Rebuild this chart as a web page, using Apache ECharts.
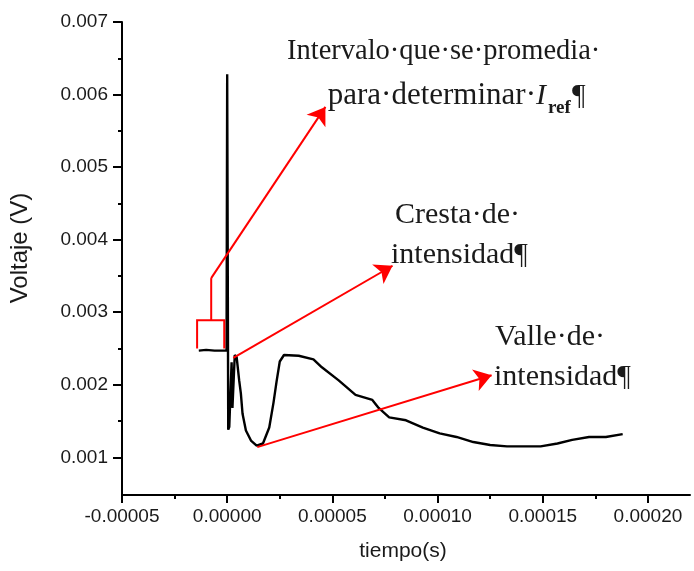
<!DOCTYPE html>
<html><head><meta charset="utf-8">
<script src="https://cdn.jsdelivr.net/npm/echarts@6/dist/echarts.min.js"></script>
<style>html,body{margin:0;padding:0;background:#fff}#c{width:694px;height:571px}</style>
</head><body><div id="c"></div>
<script>
// ---- data ----
const timeS = [-1.35e-5, -1.0e-5, -6e-6, -2e-6, -3e-7, 0, 5e-7, 1.0e-6, 2.1e-6, 2.5e-6, 3.6e-6, 4.5e-6,
  5.7e-6, 6.5e-6, 7.3e-6, 8.9e-6, 1.13e-5, 1.4e-5, 1.7e-5, 2.0e-5, 2.2e-5, 2.35e-5, 2.5e-5, 2.7e-5,
  3.4e-5, 4.1e-5, 4.5e-5, 5.3e-5, 6.1e-5, 6.9e-5, 7.2e-5, 7.7e-5, 8.5e-5, 9.3e-5, 1.01e-4, 1.09e-4,
  1.17e-4, 1.25e-4, 1.33e-4, 1.49e-4, 1.57e-4, 1.64e-4, 1.72e-4, 1.8e-4, 1.88e-4];
const voltV = [0.00247, 0.00248, 0.00247, 0.00247, 0.00247, 0.00628, 0.00138, 0.00142, 0.00231, 0.00168, 0.00241, 0.00238,
  0.00206, 0.00188, 0.00160, 0.00137, 0.00123, 0.00116, 0.00119, 0.00141, 0.00175, 0.00205, 0.00232, 0.00241,
  0.00240, 0.00235, 0.00224, 0.00206, 0.00186, 0.00179, 0.00168, 0.00155, 0.00151, 0.00141, 0.00133, 0.00128,
  0.00121, 0.00117, 0.00115, 0.00115, 0.00119, 0.00124, 0.00128, 0.00128, 0.00132];

const xMajorTicks = [-0.00005, 0, 0.00005, 0.0001, 0.00015, 0.0002];
const xTickLabels = ['-0.00005', '0.00000', '0.00005', '0.00010', '0.00015', '0.00020'];
const xMinorTicks = [-0.000025, 0.000025, 0.000075, 0.000125, 0.000175];
const yMajorTicks = [0.001, 0.002, 0.003, 0.004, 0.005, 0.006, 0.007];
const yTickLabels = ['0.001', '0.002', '0.003', '0.004', '0.005', '0.006', '0.007'];
const yMinorTicks = [0.0015, 0.0025, 0.0035, 0.0045, 0.0055, 0.0065];

// annotation anchors (data coordinates)
const bracketBox = [[-1.43e-5, 0.0025], [-1.43e-5, 0.00289], [-1.4e-6, 0.00289], [-1.4e-6, 0.0025]];
const bracketStem = [[-7.6e-6, 0.00289], [-7.6e-6, 0.00347]];
const arrowFrom = [[-7.6e-6, 0.00347], [2.9e-6, 0.00237], [1.43e-5, 0.00114]];
const arrowTo = [[4.67e-5, 0.00583], [7.86e-5, 0.00364], [1.257e-4, 0.00213]];

const seriesData = timeS.map((t, i) => [t, voltV[i]]);
function labelFor(ticks, labels) {
  return function (v) {
    for (let i = 0; i < ticks.length; i++) if (Math.abs(v - ticks[i]) < 1e-12) return labels[i];
    return '';
  };
}

const SANS = 'Liberation Sans, Arial, sans-serif';
const SERIF = 'Liberation Serif, Times New Roman, serif';
const TXT = '#1a1a1a';
const axisCommon = { scale: true, splitLine: { show: false } };

const chart = echarts.init(document.getElementById('c'), null, { renderer: 'canvas' });
chart.setOption({
  animation: false,
  backgroundColor: '#fff',
  grid: { left: 122, top: 22, right: 4, bottom: 76, containLabel: false },
  xAxis: [
    Object.assign({}, axisCommon, {
      type: 'value', position: 'bottom', min: -0.00005, max: 0.00022,
      axisLine: { show: true, onZero: false, lineStyle: { color: '#000', width: 2 } },
      axisTick: { show: true, customValues: xMajorTicks, length: 8, lineStyle: { color: '#000', width: 2 } },
      axisLabel: { show: true, customValues: xMajorTicks, formatter: labelFor(xMajorTicks, xTickLabels),
        fontFamily: SANS, fontSize: 19, color: TXT, margin: 12 }
    }),
    Object.assign({}, axisCommon, {
      type: 'value', position: 'bottom', min: -0.00005, max: 0.00022,
      axisLine: { show: false, onZero: false },
      axisTick: { show: true, customValues: xMinorTicks, length: 4, lineStyle: { color: '#000', width: 2 } },
      axisLabel: { show: false }
    })
  ],
  yAxis: [
    Object.assign({}, axisCommon, {
      type: 'value', position: 'left', min: 0.00048, max: 0.007,
      axisLine: { show: true, onZero: false, lineStyle: { color: '#000', width: 2 } },
      axisTick: { show: true, customValues: yMajorTicks, length: 9, lineStyle: { color: '#000', width: 2 } },
      axisLabel: { show: true, customValues: yMajorTicks, formatter: labelFor(yMajorTicks, yTickLabels),
        fontFamily: SANS, fontSize: 19, color: TXT, margin: 14 }
    }),
    Object.assign({}, axisCommon, {
      type: 'value', position: 'left', min: 0.00048, max: 0.007,
      axisLine: { show: false, onZero: false },
      axisTick: { show: true, customValues: yMinorTicks, length: 4, lineStyle: { color: '#000', width: 2 } },
      axisLabel: { show: false }
    })
  ],
  series: [
    {
      type: 'line', xAxisIndex: 0, yAxisIndex: 0, data: seriesData, showSymbol: false, symbol: 'none',
      lineStyle: { color: '#000', width: 2.4 }, z: 3
    },
    {
      type: 'lines', coordinateSystem: 'cartesian2d', xAxisIndex: 0, yAxisIndex: 0, polyline: true,
      data: [{ coords: bracketBox }, { coords: bracketStem }],
      lineStyle: { color: '#ff0000', width: 2, opacity: 1 }, symbol: 'none', z: 4
    },
    {
      type: 'lines', coordinateSystem: 'cartesian2d', xAxisIndex: 0, yAxisIndex: 0,
      data: arrowFrom.map((p, i) => ({ coords: [p, arrowTo[i]] })),
      symbol: ['none', 'arrow'], symbolSize: [14, 17],
      lineStyle: { color: '#ff0000', width: 2, opacity: 1 },
      itemStyle: { color: '#ff0000' }, z: 4
    }
  ],
  graphic: [
    { type: 'text', left: 287, top: 37, style: { text: 'Intervalo·que·se·promedia·', font: '28.5px ' + SERIF, fill: TXT } },
    { type: 'text', right: 694 - 536, top: 80, style: { text: 'para·determinar·', font: '31px ' + SERIF, fill: TXT } },
    { type: 'text', left: 536, top: 81, style: { text: 'I', font: 'italic 30px ' + SERIF, fill: TXT } },
    { type: 'text', left: 548, top: 99, style: { text: 'ref', font: 'bold 19px ' + SERIF, fill: TXT } },
    { type: 'text', left: 572, top: 81, style: { text: '¶', font: '30px ' + SERIF, fill: TXT } },
    { type: 'text', left: 395, top: 200, style: { text: 'Cresta·de·', font: '30px ' + SERIF, fill: TXT } },
    { type: 'text', left: 391, top: 240, style: { text: 'intensidad¶', font: '30px ' + SERIF, fill: TXT } },
    { type: 'text', left: 495, top: 322, style: { text: 'Valle·de·', font: '30px ' + SERIF, fill: TXT } },
    { type: 'text', left: 494, top: 362, style: { text: 'intensidad¶', font: '30px ' + SERIF, fill: TXT } },
    { type: 'text', x: 403, y: 551, style: { text: 'tiempo(s)', font: '21px ' + SANS, fill: TXT, align: 'center', verticalAlign: 'middle' } },
    { type: 'text', x: 20, y: 248, rotation: Math.PI / 2, style: { text: 'Voltaje (V)', font: '24px ' + SANS, fill: TXT, align: 'center', verticalAlign: 'middle' } }
  ]
});
</script>
</body></html>
